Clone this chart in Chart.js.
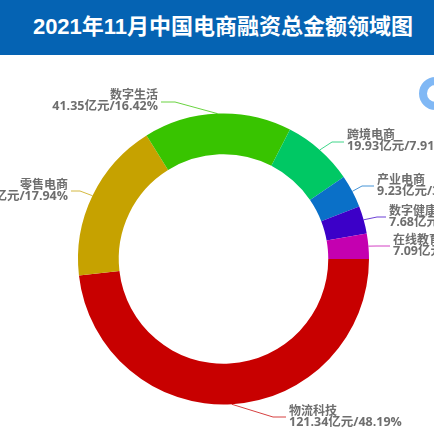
<!DOCTYPE html>
<html>
<head>
<meta charset="utf-8">
<style>
  html, body { margin: 0; padding: 0; background: #fff; overflow: hidden; }
  #wrap { position: relative; width: 434px; height: 434px; }
  #header {
    position: absolute; left: 0; top: 0; width: 434px; height: 55px;
    box-sizing: border-box; padding-left: 12px;
    background: #0563b3; color: #fff; text-align: center;
    font: bold 22px/53px "Liberation Sans", "Noto Sans CJK SC", sans-serif;
    white-space: nowrap; z-index: 2;
  }
  #blob {
    position: absolute; left: 419px; top: 77px; width: 17px; height: 17px;
    border: 8px solid #80b8f5; border-radius: 50%;
  }
  canvas { position: absolute; left: 0; top: 0; }
</style>
</head>
<body>
<div id="wrap">
  <div id="header">2021年11月中国电商融资总金额领域图</div>
  <canvas id="donut" width="434" height="434"></canvas>
  <div id="blob"></div>
</div>
<script src="https://cdn.jsdelivr.net/npm/chart.js@4"></script>
<script>
const categories = ['物流科技', '零售电商', '数字生活', '跨境电商', '产业电商', '数字健康', '在线教育'];
const amounts = [121.34, 45.18, 41.35, 19.93, 9.23, 7.68, 7.09];
const percents = ['48.19', '17.94', '16.42', '7.91', '3.67', '3.05', '2.82'];
const colors = ['#c80000', '#c6a200', '#38c400', '#00c864', '#0a70c8', '#3c00c8', '#c400b0'];

// elbow of each leader line and where the text sits, relative to the page
const leaders = [
  { elbow: [273, 417], text: [289, 416], align: 'left' },
  { elbow: [80, 191], text: [68, 190], align: 'right' },
  { elbow: [175, 102], text: [158, 100], align: 'right' },
  { elbow: [332, 142], text: [347, 140], align: 'left' },
  { elbow: [362, 186], text: [377, 185], align: 'left' },
  { elbow: [377, 217], text: [389, 216], align: 'left' },
  { elbow: [377, 246], text: [393, 245], align: 'left' }
];

const labelPlugin = {
  id: 'sideLabels',
  afterDatasetsDraw(chart) {
    const c = chart.ctx;
    chart.getDatasetMeta(0).data.forEach((arc, i) => {
      const p = arc.getProps(['x', 'y', 'startAngle', 'endAngle', 'outerRadius']);
      const mid = (p.startAngle + p.endAngle) / 2;
      const l = leaders[i];
      c.strokeStyle = colors[i];
      c.globalAlpha = 0.75;
      c.lineWidth = 1;
      c.beginPath();
      c.moveTo(p.x + Math.cos(mid) * p.outerRadius, p.y + Math.sin(mid) * p.outerRadius);
      c.lineTo(l.elbow[0], l.elbow[1]);
      c.lineTo(l.text[0] + (l.align === 'left' ? -3 : 3), l.elbow[1]);
      c.stroke();
      c.globalAlpha = 1;
      c.fillStyle = '#6e6e6e';
      c.textAlign = l.align;
      c.textBaseline = 'middle';
      c.font = 'bold 12px "Noto Sans CJK SC", sans-serif';
      c.fillText(categories[i], l.text[0], l.text[1] - 6);
      c.font = 'bold 12.5px "Open Sans", "Noto Sans CJK SC", sans-serif';
      c.fillText(amounts[i] + '亿元/' + percents[i] + '%', l.text[0], l.text[1] + 6);
    });
  }
};

new Chart(document.getElementById('donut'), {
  type: 'doughnut',
  data: {
    labels: categories,
    datasets: [{
      data: amounts,
      backgroundColor: colors,
      borderWidth: 0
    }]
  },
  options: {
    responsive: false,
    animation: false,
    rotation: 90,
    cutout: '72%',
    layout: { padding: { left: 78, right: 65, top: 113, bottom: 29 } },
    plugins: {
      legend: { display: false },
      tooltip: { enabled: false }
    }
  },
  plugins: [labelPlugin]
});
</script>
</body>
</html>
